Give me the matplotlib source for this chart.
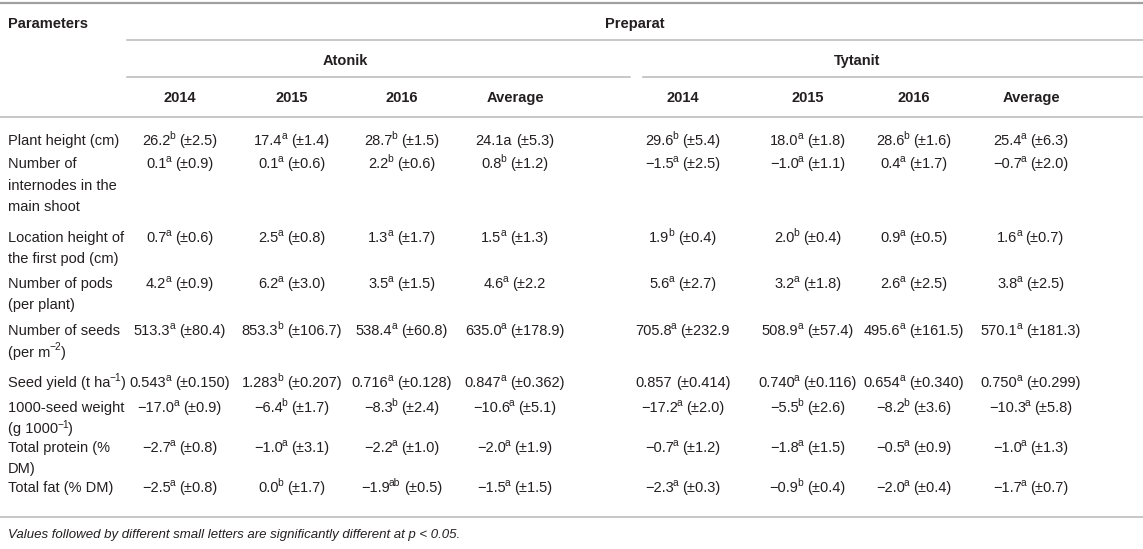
import matplotlib
matplotlib.use('Agg')
import matplotlib.pyplot as plt

# textos e valores da tabela
# cada linha do parametro: lista de pedaços (texto, sobrescrito?)
parametros = [
    [[('Plant height (cm)', False)]],
    [[('Number of', False)], [('internodes in the', False)], [('main shoot', False)]],
    [[('Location height of', False)], [('the first pod (cm)', False)]],
    [[('Number of pods', False)], [('(per plant)', False)]],
    [[('Number of seeds', False)], [('(per m', False), ('−2', True), (')', False)]],
    [[('Seed yield (t ha', False), ('−1', True), (')', False)]],
    [[('1000-seed weight', False)], [('(g 1000', False), ('−1', True), (')', False)]],
    [[('Total protein (%', False)], [('DM)', False)]],
    [[('Total fat (% DM)', False)]],
]

anos = ['2014', '2015', '2016', 'Average']
preparados = ['Atonik', 'Tytanit']

# Atonik: medias, letras, desvios
atonik_media = [
    ['26.2', '17.4', '28.7', '24.1a'],
    ['0.1', '0.1', '2.2', '0.8'],
    ['0.7', '2.5', '1.3', '1.5'],
    ['4.2', '6.2', '3.5', '4.6'],
    ['513.3', '853.3', '538.4', '635.0'],
    ['0.543', '1.283', '0.716', '0.847'],
    ['−17.0', '−6.4', '−8.3', '−10.6'],
    ['−2.7', '−1.0', '−2.2', '−2.0'],
    ['−2.5', '0.0', '−1.9', '−1.5'],
]
atonik_letra = [
    ['b', 'a', 'b', ''],
    ['a', 'a', 'b', 'b'],
    ['a', 'a', 'a', 'a'],
    ['a', 'a', 'a', 'a'],
    ['a', 'b', 'a', 'a'],
    ['a', 'b', 'a', 'a'],
    ['a', 'b', 'b', 'a'],
    ['a', 'a', 'a', 'a'],
    ['a', 'b', 'ab', 'a'],
]
atonik_dp = [
    ['(±2.5)', '(±1.4)', '(±1.5)', '(±5.3)'],
    ['(±0.9)', '(±0.6)', '(±0.6)', '(±1.2)'],
    ['(±0.6)', '(±0.8)', '(±1.7)', '(±1.3)'],
    ['(±0.9)', '(±3.0)', '(±1.5)', '(±2.2'],
    ['(±80.4)', '(±106.7)', '(±60.8)', '(±178.9)'],
    ['(±0.150)', '(±0.207)', '(±0.128)', '(±0.362)'],
    ['(±0.9)', '(±1.7)', '(±2.4)', '(±5.1)'],
    ['(±0.8)', '(±3.1)', '(±1.0)', '(±1.9)'],
    ['(±0.8)', '(±1.7)', '(±0.5)', '(±1.5)'],
]

# Tytanit
tytanit_media = [
    ['29.6', '18.0', '28.6', '25.4'],
    ['−1.5', '−1.0', '0.4', '−0.7'],
    ['1.9', '2.0', '0.9', '1.6'],
    ['5.6', '3.2', '2.6', '3.8'],
    ['705.8', '508.9', '495.6', '570.1'],
    ['0.857', '0.740', '0.654', '0.750'],
    ['−17.2', '−5.5', '−8.2', '−10.3'],
    ['−0.7', '−1.8', '−0.5', '−1.0'],
    ['−2.3', '−0.9', '−2.0', '−1.7'],
]
tytanit_letra = [
    ['b', 'a', 'b', 'a'],
    ['a', 'a', 'a', 'a'],
    ['b', 'b', 'a', 'a'],
    ['a', 'a', 'a', 'a'],
    ['a', 'a', 'a', 'a'],
    ['', 'a', 'a', 'a'],
    ['a', 'b', 'b', 'a'],
    ['a', 'a', 'a', 'a'],
    ['a', 'b', 'a', 'a'],
]
tytanit_dp = [
    ['(±5.4)', '(±1.8)', '(±1.6)', '(±6.3)'],
    ['(±2.5)', '(±1.1)', '(±1.7)', '(±2.0)'],
    ['(±0.4)', '(±0.4)', '(±0.5)', '(±0.7)'],
    ['(±2.7)', '(±1.8)', '(±2.5)', '(±2.5)'],
    ['(±232.9', '(±57.4)', '(±161.5)', '(±181.3)'],
    ['(±0.414)', '(±0.116)', '(±0.340)', '(±0.299)'],
    ['(±2.0)', '(±2.6)', '(±3.6)', '(±5.8)'],
    ['(±1.2)', '(±1.5)', '(±0.9)', '(±1.3)'],
    ['(±0.3)', '(±0.4)', '(±0.4)', '(±0.7)'],
]

nota = 'Values followed by different small letters are significantly different at p < 0.05.'

# layout (pixels)
plt.rcParams['font.family'] = 'Liberation Sans'

W, H = 1143, 549
fig = plt.figure(figsize=(W / 100, H / 100), dpi=100)
ax = fig.add_axes([0, 0, 1, 1])
ax.set_xlim(0, W)
ax.set_ylim(H, 0)
ax.axis('off')
rend = fig.canvas.get_renderer()

cor_txt = '#231f20'
cor_linha = '#b8b8b8'
fs = 10.5
fs_sup = fs * 0.7
sobe = 6        # elevação do sobrescrito (px)
base = 5        # deslocamento centro -> linha de base

col_x = [[180, 292, 402, 515], [683, 808, 914, 1031]]
grupo_x = [345, 857]
grupo_linha = [(127, 630), (643, 1143)]
linha_y = [140, 163, 237, 283, 330, 382, 407, 447, 487]
passo = 21.5


def largura(s, tam):
    t = ax.text(0, 0, s, fontsize=tam)
    w = t.get_window_extent(rend).width
    t.remove()
    return w


esp = largura('a a', fs) - largura('aa', fs)


def texto_rico(x, y, partes, ha='left'):
    # partes: lista de (texto, sobrescrito); ' ' vira espaço medido
    ws = []
    for s, sup in partes:
        if s == ' ':
            ws.append(esp)
        elif sup:
            ws.append(largura(s, fs_sup) - 0.5)
        else:
            ws.append(largura(s, fs))
    x0 = x - sum(ws) / 2 if ha == 'center' else x
    for (s, sup), w in zip(partes, ws):
        if sup:
            x0 -= 1
        if s != ' ':
            ax.text(x0, y - (sobe if sup else 0), s, fontsize=fs_sup if sup else fs,
                    color=cor_txt, va='baseline', ha='left')
        x0 += w


# linhas horizontais
ax.plot([0, W], [3, 3], color='#a0a0a0', lw=1.6)
ax.plot([127, W], [40, 40], color=cor_linha, lw=1.1)
for x0, x1 in grupo_linha:
    ax.plot([x0, x1], [77, 77], color=cor_linha, lw=1.1)
ax.plot([0, W], [117, 117], color=cor_linha, lw=1.1)
ax.plot([0, W], [517, 517], color=cor_linha, lw=1.1)

# cabeçalho
ax.text(8, 23 + base, 'Parameters', fontsize=fs, fontweight='bold', color=cor_txt, va='baseline')
ax.text(635, 23 + base, 'Preparat', fontsize=fs, fontweight='bold', color=cor_txt,
        va='baseline', ha='center')
for g, nome in enumerate(preparados):
    ax.text(grupo_x[g], 60 + base, nome, fontsize=fs, fontweight='bold', color=cor_txt,
            va='baseline', ha='center')
    for j, ano in enumerate(anos):
        ax.text(col_x[g][j], 97 + base, ano, fontsize=fs, fontweight='bold', color=cor_txt,
                va='baseline', ha='center')

# corpo
medias = [atonik_media, tytanit_media]
letras = [atonik_letra, tytanit_letra]
dps = [atonik_dp, tytanit_dp]
for i, par in enumerate(parametros):
    y = linha_y[i] + base
    for k, linha in enumerate(par):
        texto_rico(8, y + k * passo, linha)
    for g in range(2):
        for j in range(4):
            partes = [(medias[g][i][j], False)]
            if letras[g][i][j]:
                partes.append((letras[g][i][j], True))
            partes += [(' ', False), (dps[g][i][j], False)]
            texto_rico(col_x[g][j], y, partes, ha='center')

ax.text(8, 533 + base, nota, fontsize=9.5, style='italic', color=cor_txt, va='baseline')

fig.savefig('out.png', dpi=100)
